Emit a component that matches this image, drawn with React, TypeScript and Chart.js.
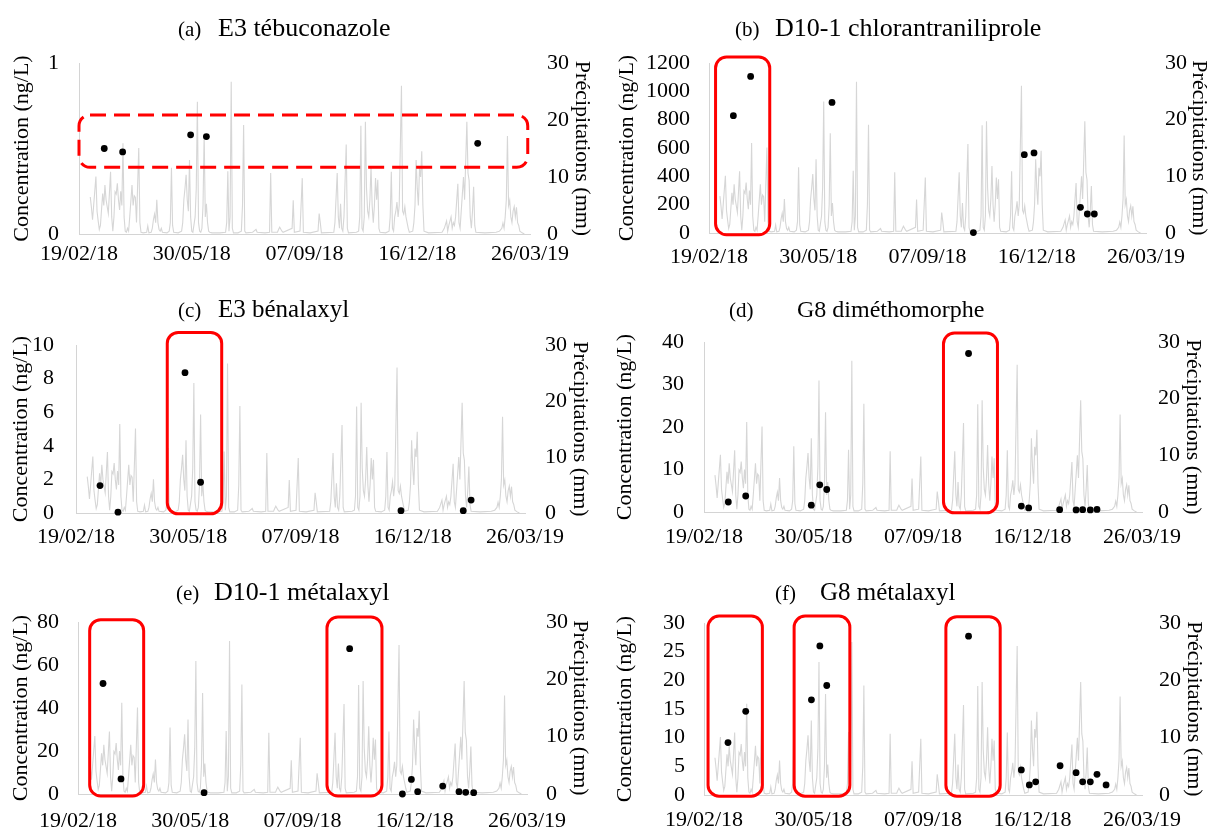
import React, { useEffect, useRef } from 'react';
import { Chart, registerables } from 'chart.js';

Chart.register(...registerables);

// ---------- data ----------
const xTickDays = [0, 100, 200, 300, 400];
const xTickLabels = ['19/02/18', '30/05/18', '07/09/18', '16/12/18', '26/03/19'];

// daily rainfall (day since 19/02/18, mm)
const rainfall: [number, number][] = [
  [10, 6.5], [11, 4.7], [12, 2.5], [13, 5], [15, 10.1], [16, 4], [17, 2.3], [18, 0.8], [19, 1.5],
  [21, 7.1], [22, 5], [23, 8.6], [24, 6], [26, 3.6], [28, 10.9], [29, 3], [30, 0.5], [31, 3],
  [32, 7.4], [33, 7], [34, 8.9], [35, 6], [36, 4.2], [37, 7.5], [38, 5], [39, 15.9], [40, 3],
  [41, 0.5], [42, 0.3], [43, 1], [44, 0.5], [45, 3], [47, 8.6], [48, 5], [49, 6.7], [50, 6.4],
  [51, 2], [53, 15.1], [54, 2], [55, 0.3], [57, 0.2], [60, 0.3], [61, 1.4], [62, 0.2], [64, 0.3],
  [65, 1], [66, 2.5], [67, 3.5], [68, 2], [69, 6], [70, 2], [71, 0.8], [72, 0.5], [73, 1],
  [74, 0.3], [78, 0.2], [80, 0.5], [81, 2], [82, 11.6], [83, 1.5], [84, 0.3], [88, 0.2], [91, 0.5],
  [92, 2], [93, 6], [94, 8], [95, 10.4], [96, 6], [97, 4], [98, 13], [99, 3], [100, 0.5],
  [101, 0.3], [103, 3], [104, 8], [105, 23.2], [106, 2], [107, 0.5], [108, 0.3], [109, 1], [110, 5],
  [111, 17.6], [112, 3], [113, 5.3], [114, 2], [115, 0.5], [116, 0.3], [118, 0.2], [125, 0.2], [130, 0.3],
  [131, 2], [132, 11], [133, 0.5], [134, 3], [135, 26.7], [136, 1], [137, 0.2], [141, 0.2], [144, 0.5],
  [145, 5], [146, 19.1], [147, 0.5], [148, 0.2], [154, 0.3], [157, 0.8], [158, 0.3], [165, 0.2], [169, 0.3],
  [170, 10.7], [171, 0.3], [176, 0.3], [177, 0.8], [178, 1.2], [180, 0.5], [181, 0.3], [189, 1], [190, 5.9],
  [191, 0.3], [196, 0.5], [198, 9.8], [199, 0.3], [205, 0.2], [212, 0.5], [213, 3.6], [214, 2], [215, 0.2],
  [226, 0.3], [227, 2], [229, 10.7], [230, 3], [231, 1], [232, 5.3], [233, 1], [234, 0.5], [235, 3],
  [237, 15.7], [238, 1], [239, 0.2], [246, 0.3], [248, 0.5], [249, 3], [250, 19], [251, 1], [252, 0.5],
  [253, 3], [254, 19.7], [255, 8], [256, 4], [257, 3], [258, 6], [259, 11.8], [260, 5], [261, 2],
  [262, 5], [263, 9.8], [264, 6], [265, 9.5], [266, 1], [267, 0.3], [272, 0.2], [275, 0.5], [276, 3],
  [277, 10.9], [278, 1], [279, 0.5], [280, 3], [281, 4], [282, 5.6], [283, 3], [284, 5], [286, 26],
  [287, 4], [288, 3.5], [289, 4.8], [290, 3], [291, 2], [292, 1], [293, 0.3], [296, 0.5], [297, 2],
  [298, 5], [299, 13], [300, 8], [301, 5], [302, 11.5], [303, 10], [304, 14.5], [305, 5], [306, 0.5],
  [310, 0.2], [322, 0.3], [324, 1], [326, 2.3], [327, 0.5], [328, 1.5], [330, 3], [331, 1], [332, 2],
  [333, 1.5], [334, 3], [336, 8.8], [337, 2], [338, 1], [339, 4], [340, 7], [341, 10], [342, 6],
  [344, 19.7], [345, 10.7], [346, 9.4], [347, 3], [348, 1], [349, 4], [350, 8.3], [351, 1.5], [352, 0.3],
  [360, 0.2], [370, 0.3], [373, 0.5], [375, 1], [376, 1.9], [377, 1], [378, 3], [379, 6], [380, 17.2],
  [381, 5], [382, 5.9], [383, 3], [384, 2], [385, 4], [386, 4.8], [387, 3], [388, 4.7], [389, 2],
  [390, 1.5], [391, 0.5], [393, 0.2], [395, 0],
];

const panelLetters = ['(a)', '(b)', '(c)', '(d)', '(e)', '(f)'];
const panelNames = [
  'E3 tébuconazole',
  'D10-1 chlorantraniliprole',
  'E3 bénalaxyl',
  'G8 diméthomorphe',
  'D10-1 métalaxyl',
  'G8 métalaxyl',
];
const concMax = [1, 1200, 10, 40, 80, 30];
const concStep = [1, 200, 2, 10, 20, 5];
const rainMax = 30;
const rainStep = 10;

// sampling days (since 19/02/18) and concentrations (ng/L)
const daysA = [22.4, 38.7, 99, 113, 353.6];
const concA = [0.5, 0.48, 0.58, 0.57, 0.53];
const daysB = [22.3, 38.1, 112.6, 242, 288.6, 297.5, 340, 346.3, 352.7];
const concB = [828, 1105, 922, 3, 553, 565, 181, 134, 134];
const daysC = [21.4, 37.4, 97.1, 111, 289.5, 345, 352];
const concC = [1.63, 0.05, 8.35, 1.83, 0.14, 0.14, 0.77];
const daysD = [22.2, 38.1, 98, 105.7, 112.1, 241.6, 289.8, 296.5, 324.8, 339.8, 345.8, 352.8, 358.9];
const concD = [2.35, 3.76, 1.6, 6.4, 5.3, 37.3, 1.4, 0.95, 0.55, 0.5, 0.55, 0.5, 0.6];
const daysE = [22.3, 38.3, 112.3, 242, 289, 297, 302.6, 324.9, 339.4, 345.4, 352.5];
const concE = [51.4, 7, 0.6, 67.6, 0, 6.8, 1.1, 3.7, 1.1, 0.8, 0.6];
const daysF = [21.9, 38.1, 98.1, 105.8, 112.1, 241.6, 289.8, 297.1, 302.9, 325.2, 339.8, 345.8, 352.8, 358.9, 367.2];
const concF = [9.14, 14.6, 16.6, 26.0, 19.1, 27.7, 4.37, 1.75, 2.3, 5.1, 3.9, 2.3, 2.3, 3.6, 1.75];

const sampleDays = [daysA, daysB, daysC, daysD, daysE, daysF];
const sampleConc = [concA, concB, concC, concD, concE, concF];

// highlighted periods: [dayStart, dayEnd, concLow, concHigh]
const highlightA = [[0, 398, 0.39, 0.696]];
const highlightB = [[6, 55.6, -12, 1242]];
const highlightC = [[81.3, 129.8, -0.05, 10.75]];
const highlightD = [[218.7, 268, -0.2, 42.1]];
const highlightE = [[10.4, 58.5, -0.9, 81.1], [221.8, 270.8, -0.9, 82.3]];
const highlightF = [[3.7, 53.3, -0.2, 31.2], [82.3, 133.2, -0.2, 31.2], [220.9, 270.5, -0.2, 31.1]];
const highlights = [highlightA, highlightB, highlightC, highlightD, highlightE, highlightF];
const dashedHighlight = [true, false, false, false, false, false];

// ---------- layout / style ----------
const FONT = '"Liberation Serif", "Times New Roman", serif';
type Layout = {
  canvas: [number, number, number, number]; // left, top, width, height
  area: [number, number, number, number]; // left, top, right, bottom (page coords)
  letterX: number;
  nameX: number;
  nameSize: number;
  baseline: number;
  leftTitlePad: number;
  rightTitlePad: number;
  leftTickPad: number;
  rightTickPad: number;
  xTickPad: number;
};
const LAYOUT: Layout[] = [
  { canvas: [0, 0, 604, 277], area: [79, 63, 530, 234], letterX: 178, nameX: 218, nameSize: 26, baseline: 36, leftTitlePad: 9, rightTitlePad: 9, leftTickPad: 20, rightTickPad: 17, xTickPad: 7 },
  { canvas: [604, 0, 604, 277], area: [709, 63, 1146, 233], letterX: 735, nameX: 775, nameSize: 26, baseline: 36, leftTitlePad: 10, rightTitlePad: -4, leftTickPad: 19, rightTickPad: 19, xTickPad: 11 },
  { canvas: [0, 277, 604, 278], area: [76, 345, 525, 513], letterX: 178, nameX: 218, nameSize: 25, baseline: 317, leftTitlePad: 8, rightTitlePad: 11, leftTickPad: 22, rightTickPad: 20, xTickPad: 11 },
  { canvas: [604, 277, 604, 278], area: [704, 342, 1142, 512], letterX: 729, nameX: 797, nameSize: 24, baseline: 317, leftTitlePad: 8, rightTitlePad: 2, leftTickPad: 20, rightTickPad: 16, xTickPad: 12 },
  { canvas: [0, 555, 604, 277], area: [78, 622, 527, 794], letterX: 176, nameX: 214, nameSize: 26, baseline: 600, leftTitlePad: 8, rightTitlePad: 11, leftTickPad: 19, rightTickPad: 19, xTickPad: 14 },
  { canvas: [604, 555, 604, 277], area: [704, 623, 1142, 795], letterX: 775, nameX: 820, nameSize: 25, baseline: 600, leftTitlePad: 8, rightTitlePad: 1, leftTickPad: 19, rightTickPad: 17, xTickPad: 12 },
];

function Panel({ index }: { index: number }) {
  const ref = useRef<HTMLCanvasElement | null>(null);
  const L = LAYOUT[index];
  const [cl, ct, cw, ch] = L.canvas;
  const [al, at, ar, ab] = L.area;

  useEffect(() => {
    if (!ref.current) return;
    const tickFont = { family: FONT, size: 22 };
    const titleFont = { family: FONT, size: 22 };

    const boxPlugin = {
      id: 'highlightBoxes',
      afterDatasetsDraw(chart: any) {
        const { ctx } = chart;
        const xs = chart.scales.x;
        const ys = chart.scales.y;
        ctx.save();
        ctx.strokeStyle = '#ff0000';
        ctx.lineWidth = 3;
        if (dashedHighlight[index]) ctx.setLineDash([16, 8]);
        for (const b of highlights[index]) {
          const x1 = xs.getPixelForValue(b[0]);
          const x2 = xs.getPixelForValue(b[1]);
          const y1 = ys.getPixelForValue(b[3]);
          const y2 = ys.getPixelForValue(b[2]);
          ctx.beginPath();
          ctx.roundRect(x1, y1, x2 - x1, y2 - y1, 11);
          ctx.stroke();
        }
        ctx.restore();
      },
    };

    const titlePlugin = {
      id: 'panelTitle',
      afterDraw(chart: any) {
        const { ctx } = chart;
        ctx.save();
        ctx.fillStyle = '#000';
        ctx.textBaseline = 'alphabetic';
        ctx.textAlign = 'left';
        ctx.font = `21px ${FONT}`;
        ctx.fillText(panelLetters[index], L.letterX - cl, L.baseline - ct);
        ctx.font = `${L.nameSize}px ${FONT}`;
        ctx.fillText(panelNames[index], L.nameX - cl, L.baseline - ct);
        ctx.restore();
      },
    };

    const samples = sampleDays[index].map((d, i) => ({ x: d, y: sampleConc[index][i] }));
    const rain = rainfall.map(([d, v]) => ({ x: d, y: v }));
    const concTicks: number[] = [];
    for (let v = 0; v <= concMax[index] + 1e-9; v += concStep[index]) concTicks.push(v);
    const rainTicks: number[] = [];
    for (let v = 0; v <= rainMax; v += rainStep) rainTicks.push(v);

    const chart = new Chart(ref.current, {
      type: 'scatter',
      data: {
        datasets: [
          {
            type: 'scatter',
            data: samples,
            yAxisID: 'y',
            backgroundColor: '#000000',
            borderColor: '#000000',
            pointRadius: 3.4,
            pointBorderWidth: 0,
            clip: false,
            order: 0,
          } as any,
          {
            type: 'line',
            data: rain,
            yAxisID: 'y2',
            borderColor: '#d6d6d6',
            borderWidth: 1.1,
            pointRadius: 0,
            tension: 0,
            fill: false,
            order: 1,
          } as any,
        ],
      },
      options: {
        animation: false,
        responsive: false,
        events: [],
        layout: { padding: { top: at - ct, left: 0, right: 0, bottom: 0 } },
        plugins: {
          legend: { display: false },
          tooltip: { enabled: false },
          title: { display: false },
        },
        scales: {
          x: {
            type: 'linear',
            min: 0,
            max: 400,
            afterBuildTicks: (s: any) => {
              s.ticks = xTickDays.map((v) => ({ value: v }));
            },
            afterFit: (s: any) => {
              s.height = ct + ch - ab;
            },
            ticks: {
              callback: (_v: any, i: number) => xTickLabels[i],
              font: tickFont,
              color: '#000',
              padding: L.xTickPad,
              maxRotation: 0,
              autoSkip: false,
            },
            grid: { display: false, drawTicks: false },
            border: { display: true, color: '#d4d4d4', width: 1 },
          },
          y: {
            type: 'linear',
            position: 'left',
            min: 0,
            max: concMax[index],
            afterBuildTicks: (s: any) => {
              s.ticks = concTicks.map((v) => ({ value: v }));
            },
            afterFit: (s: any) => {
              s.width = al - cl;
            },
            ticks: {
              callback: (v: any) => String(Math.round(v * 1000) / 1000),
              font: tickFont,
              color: '#000',
              padding: L.leftTickPad,
              autoSkip: false,
            },
            grid: { display: false, drawTicks: false },
            border: { display: true, color: '#d4d4d4', width: 1 },
            title: {
              display: true,
              text: 'Concentration (ng/L)',
              font: titleFont,
              color: '#000',
              padding: { top: L.leftTitlePad, bottom: 0 },
            },
          },
          y2: {
            type: 'linear',
            position: 'right',
            min: 0,
            max: rainMax,
            afterBuildTicks: (s: any) => {
              s.ticks = rainTicks.map((v) => ({ value: v }));
            },
            afterFit: (s: any) => {
              s.width = cl + cw - ar;
            },
            ticks: {
              callback: (v: any) => String(v),
              font: tickFont,
              color: '#000',
              padding: L.rightTickPad,
              autoSkip: false,
            },
            grid: { display: false, drawTicks: false },
            border: { display: false },
            title: {
              display: true,
              text: 'Précipitations (mm)',
              font: titleFont,
              color: '#000',
              padding: { top: L.rightTitlePad, bottom: 0 },
            },
          },
        },
      } as any,
      plugins: [boxPlugin, titlePlugin],
    });
    return () => chart.destroy();
  }, [index]);

  return (
    <div style={{ position: 'absolute', left: cl, top: ct, width: cw, height: ch }}>
      <canvas ref={ref} width={cw} height={ch} style={{ display: 'block', width: cw, height: ch }} />
    </div>
  );
}

export default function App() {
  return (
    <div style={{ position: 'absolute', left: 0, top: 0, width: 1208, height: 832, background: '#fff', overflow: 'hidden' }}>
      {LAYOUT.map((_, i) => (
        <Panel key={i} index={i} />
      ))}
    </div>
  );
}
